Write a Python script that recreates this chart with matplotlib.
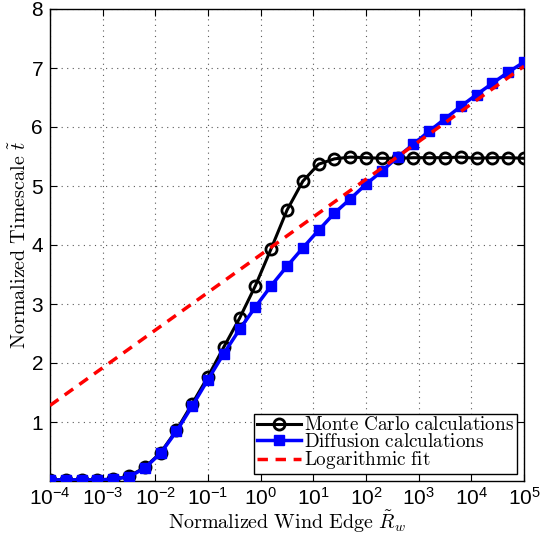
import numpy as np
import matplotlib
matplotlib.use("Agg")
from matplotlib import pyplot as plt

plt.rcParams["mathtext.fontset"] = "cm"
plt.rcParams["font.family"] = ["Liberation Sans", "DejaVu Sans"]

# wind edge sampled every 0.3 decade from 1e-4 to 1e5
r_wind = 10.0 ** np.linspace(-4, 5, 31)

t_monte_carlo = [0.02, 0.02, 0.02, 0.02, 0.03, 0.08, 0.23, 0.48, 0.86, 1.31,
                 1.77, 2.27, 2.76, 3.31, 3.94, 4.59, 5.08, 5.37, 5.46, 5.49,
                 5.48, 5.47, 5.47, 5.48, 5.48, 5.48, 5.49, 5.47, 5.48, 5.48, 5.47]
t_diffusion = [0.02, 0.02, 0.02, 0.02, 0.03, 0.07, 0.22, 0.47, 0.84, 1.27,
               1.72, 2.16, 2.57, 2.95, 3.31, 3.64, 3.95, 4.25, 4.54, 4.78,
               5.03, 5.25, 5.49, 5.71, 5.93, 6.14, 6.35, 6.55, 6.74, 6.93, 7.10]
fit_x = [1e-4, 1e5]
fit_y = [1.28, 7.03]

fig = plt.figure(figsize=(5.51, 5.35), dpi=100)
ax = fig.add_axes([50 / 551, 54 / 535, 474 / 551, 472 / 535])

ax.semilogx(r_wind, t_monte_carlo, "-o", color="black", lw=2.2, ms=8,
            mew=2, mfc="none", label=r"$\mathrm{Monte\ Carlo\ calculations}$", zorder=3)
ax.semilogx(r_wind, t_diffusion, "-s", color="blue", lw=2.5, ms=7,
            mew=1, label=r"$\mathrm{Diffusion\ calculations}$", zorder=4)
ax.semilogx(fit_x, fit_y, "--", color="red", lw=2.5, dashes=(3, 2.2),
            label=r"$\mathrm{Logarithmic\ fit}$", zorder=5)

ax.set_xlim(1e-4, 1e5)
ax.set_ylim(0, 8)
ax.set_xticks(10.0 ** np.arange(-4, 6))
ax.set_yticks(range(1, 9))
ax.grid(True, which="major", color="0.35", linestyle=(0, (1, 4)), lw=0.8)
ax.tick_params(which="both", direction="in", top=True, right=True, labelsize=15)
ax.tick_params(which="major", length=5, pad=4)
ax.tick_params(axis="y", which="major", pad=5)
ax.tick_params(which="minor", length=2.5)
for spine in ax.spines.values():
    spine.set_linewidth(1.0)

ax.set_xlabel(r"$\mathrm{Normalized\ Wind\ Edge}\ \tilde{R}_w$", fontsize=14.5, labelpad=0)
ax.set_ylabel(r"$\mathrm{Normalized\ Timescale}\ \tilde{t}$", fontsize=14.5, labelpad=1)

leg = ax.legend(loc="lower right", fontsize=13.8,
                borderpad=0.15, labelspacing=-0.08, handlelength=2.3, handletextpad=0.2,
                fancybox=False, framealpha=1, edgecolor="black", borderaxespad=0.35)
leg.get_frame().set_linewidth(1.0)

fig.savefig("out.png", dpi=100)
